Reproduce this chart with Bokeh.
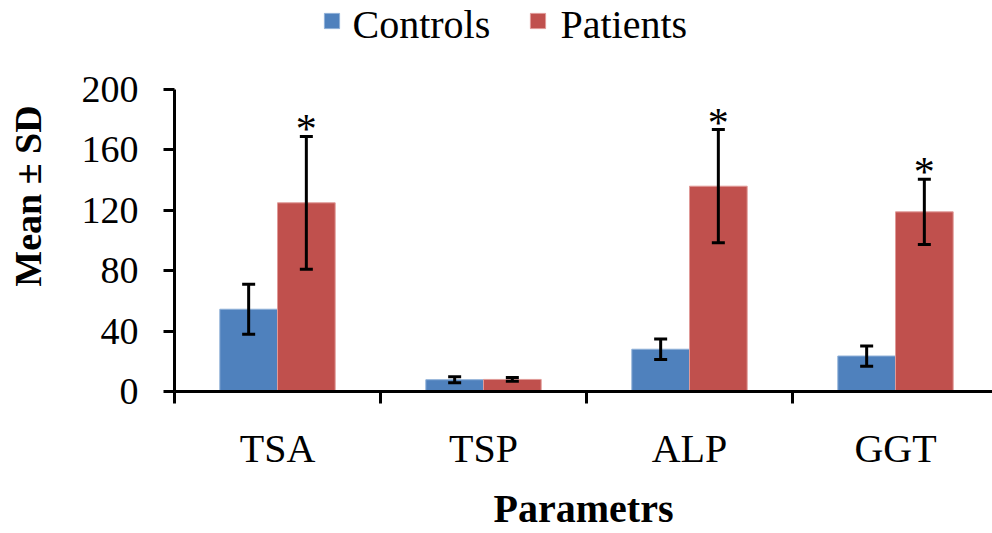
from bokeh.plotting import figure
from bokeh.models import (ColumnDataSource, Range1d, FixedTicker, Whisker, TeeHead,
                          Legend, LegendItem)
from bokeh.core.properties import value
from bokeh.embed import file_html
from bokeh.resources import INLINE

categories = ["TSA", "TSP", "ALP", "GGT"]
series_names = ["Controls", "Patients"]
controls_mean = [54.5, 7.8, 28.0, 23.5]
controls_sd = [16.5, 2.0, 6.8, 6.7]
patients_mean = [125.0, 8.0, 136.0, 119.0]
patients_sd = [44.0, 1.2, 37.5, 21.6]
significant = [True, False, True, True]
y_ticks = [0, 40, 80, 120, 160, 200]

FONT = "Liberation Serif"
BLUE = "#4F81BD"
RED = "#C0504D"
BW = 0.28

# layout (pixels): frame left edge, x-axis position, px per category, px per y unit
FRAME_LEFT, AXIS_Y, PX_CAT, PX_Y = 174, 395, 206, 305 / 200

centers = [i + 0.5 for i in range(len(categories))]
xc = [c - BW / 2 for c in centers]
xp = [c + BW / 2 for c in centers]

src_c = ColumnDataSource(dict(x=xc, top=controls_mean,
                              lo=[m - s for m, s in zip(controls_mean, controls_sd)],
                              hi=[m + s for m, s in zip(controls_mean, controls_sd)]))
src_p = ColumnDataSource(dict(x=xp, top=patients_mean,
                              lo=[m - s for m, s in zip(patients_mean, patients_sd)],
                              hi=[m + s for m, s in zip(patients_mean, patients_sd)]))
star_x = [x for x, s in zip(xp, significant) if s]
star_y = [m + s for m, s, sig in zip(patients_mean, patients_sd, significant) if sig]
src_s = ColumnDataSource(dict(x=star_x, y=star_y, t=["*"] * len(star_x)))

# frame spans from the top of the page to the x axis; the y axis line is bounded to 0..200
Y_MAX = 200
y_top = AXIS_Y / PX_Y

p = figure(width=992, height=533, output_backend="svg", toolbar_location=None,
           x_range=Range1d(0, (992 - FRAME_LEFT) / PX_CAT), y_range=Range1d(0, y_top),
           min_border_left=FRAME_LEFT, min_border_right=0, min_border_top=0,
           min_border_bottom=533 - AXIS_Y)
p.outline_line_color = None
p.xgrid.grid_line_color = None
p.ygrid.grid_line_color = None
p.background_fill_color = "white"
p.border_fill_color = "white"

rc = p.vbar(x="x", top="top", width=BW, bottom=0, source=src_c,
            fill_color=BLUE, line_color="#8fb0d8", line_width=1)
rp = p.vbar(x="x", top="top", width=BW, bottom=0, source=src_p,
            fill_color=RED, line_color="#e09a98", line_width=1)

for src in (src_c, src_p):
    w = Whisker(base="x", lower="lo", upper="hi", source=src,
                line_color="black", line_width=3, level="overlay",
                upper_head=TeeHead(size=13, line_width=3, line_color="black"),
                lower_head=TeeHead(size=13, line_width=3, line_color="black"))
    p.add_layout(w)

p.text(x="x", y="y", text="t", source=src_s, text_font=value(FONT),
       text_font_size="42px", text_align="center", text_baseline="alphabetic",
       y_offset=-7, text_color="black")

# x axis
xa = p.xaxis[0]
xa.ticker = FixedTicker(ticks=centers, minor_ticks=[0, 1, 2, 3, 4])
xa.major_label_overrides = {c: n for c, n in zip(centers, categories)}
xa.major_tick_out = 0
xa.major_tick_in = 0
xa.minor_tick_out = 12
xa.minor_tick_in = 0
xa.minor_tick_line_width = 3
xa.minor_tick_line_color = "black"
xa.axis_line_width = 3
xa.axis_line_color = "black"
xa.major_label_text_font = FONT
xa.major_label_text_font_size = "40px"
xa.major_label_text_color = "black"
xa.major_label_standoff = 22
xa.axis_label = "Parametrs"
xa.axis_label_text_font = FONT
xa.axis_label_text_font_size = "40px"
xa.axis_label_text_font_style = "bold"
xa.axis_label_text_color = "black"
xa.axis_label_standoff = 12

# y axis
ya = p.yaxis[0]
ya.ticker = FixedTicker(ticks=y_ticks, minor_ticks=[])
ya.bounds = (0, Y_MAX)
ya.major_tick_out = 11
ya.major_tick_in = 0
ya.major_tick_line_width = 3
ya.major_tick_line_color = "black"
ya.axis_line_width = 3
ya.axis_line_color = "black"
ya.major_label_text_font = FONT
ya.major_label_text_font_size = "38px"
ya.major_label_text_color = "black"
ya.major_label_standoff = 25
ya.axis_label = "Mean ± SD"
ya.axis_label_text_font = FONT
ya.axis_label_text_font_size = "38px"
ya.axis_label_text_font_style = "bold"
ya.axis_label_text_color = "black"
ya.axis_label_standoff = 30

# legend: swatches from a Legend, names as serif text beside them
legend = Legend(items=[LegendItem(label=" ", renderers=[rc]),
                       LegendItem(label=" ", renderers=[rp])],
                orientation="horizontal", location=(148, 361),
                label_text_font_size="1px", glyph_width=19, glyph_height=19,
                label_standoff=0, spacing=167, padding=0, margin=0,
                border_line_alpha=0, background_fill_alpha=0)
p.add_layout(legend, "center")

leg_px = [352, 560]          # left edge of each name, page pixels
leg_py = 24.5                # vertical middle of the names, page pixels
src_l = ColumnDataSource(dict(
    x=[(px - FRAME_LEFT) / PX_CAT for px in leg_px],
    y=[(AXIS_Y - leg_py) / PX_Y] * len(leg_px),
    t=series_names))
p.text(x="x", y="y", text="t", source=src_l, text_font=value(FONT),
       text_font_size="40px", text_align="left", text_baseline="middle",
       text_color="black")

open("out.html", "w").write(file_html(p, INLINE))
